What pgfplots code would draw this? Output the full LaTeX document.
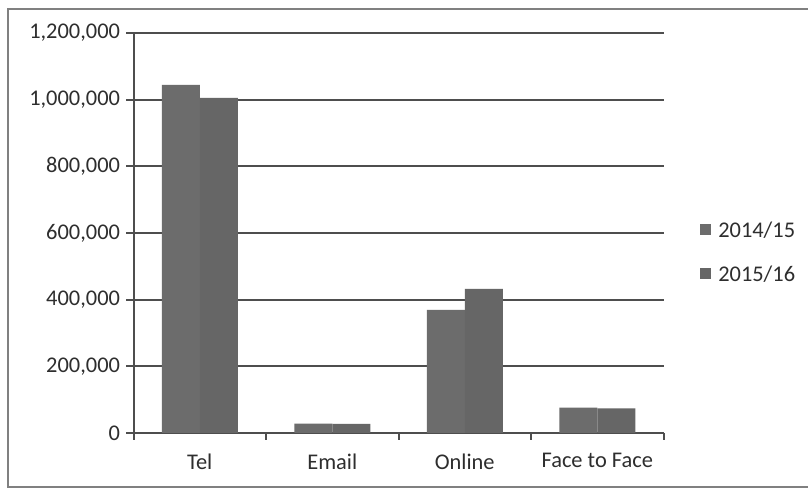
\documentclass[border=0pt]{standalone}
\usepackage{pgfplots}
\pgfplotsset{compat=1.18}
\usepackage{fontspec}
\setmainfont{Carlito}

\definecolor{barA}{HTML}{6C6C6C}
\definecolor{barB}{HTML}{666666}
\definecolor{gridc}{HTML}{4E4E4E}
\definecolor{txt}{HTML}{2E2E2E}
\definecolor{framec}{HTML}{808080}

\begin{document}
\begin{tikzpicture}[x=1bp,y=1bp]
  % page area
  \useasboundingbox (0,0) rectangle (808,490);
  \fill[white] (0,0) rectangle (808,490);
  % outer chart frame
  \draw[framec, line width=1.8bp] (820,481) -- (8,481) -- (8,3) -- (820,3);

  \begin{axis}[
    at={(133.5bp,57bp)}, anchor=south west,
    scale only axis, width=530bp, height=400bp,
    ybar=0pt, bar width=38bp,
    xmin=-0.5, xmax=3.5,
    ymin=0, ymax=1200000,
    ytick={0,200000,400000,600000,800000,1000000,1200000},
    scaled y ticks=false,
    yticklabel style={xshift=-3bp, /pgf/number format/.cd, fixed, precision=0, 1000 sep={,}},
    /pgf/number format/assume math mode=true,
    xtick={-0.5,0.5,1.5,2.5,3.5},
    xticklabels={},
    extra x ticks={0,1,2,3},
    extra x tick labels={Tel,Email,Online,Face to Face},
    extra x tick style={major tick length=0pt, grid=none},
    axis lines*=left,
    axis line style={gridc, line width=2bp, -},
    tick align=outside,
    major tick length=7bp,
    tick style={gridc, line width=2bp},
    ymajorgrids,
    major grid style={gridc, line width=1.9bp},
    tick label style={font=\fontsize{22.5}{25}\selectfont, text=txt},
    xticklabel style={yshift=-17bp},
    legend style={at={(1.069,0.451)}, anchor=west, draw=none, fill=none,
      font=\fontsize{22.5}{25}\selectfont, text=txt,
      row sep=23bp, inner sep=0pt,
      /tikz/every even column/.append style={column sep=0bp}},
    legend cell align=left,
    legend image code/.code={%
      \fill[#1] (0bp,-4bp) rectangle (11bp,7bp);},
  ]
    \addplot[fill=barA, draw=none] coordinates {(0,1044000) (1,28000) (2,369000) (3,76000)};
    \addplot[fill=barB, draw=none] coordinates {(0,1005000) (1,27000) (2,432000) (3,74000)};
    \legend{\hspace{5bp}2014/15,\hspace{5bp}2015/16}
  \end{axis}
\end{tikzpicture}
\end{document}
